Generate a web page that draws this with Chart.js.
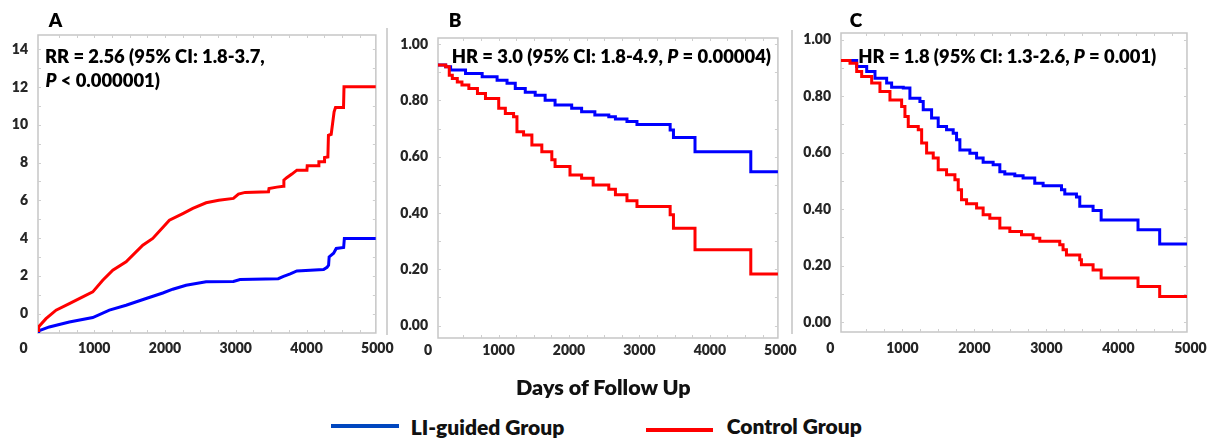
<!DOCTYPE html>
<html><head><meta charset="utf-8">
<script src="https://cdn.jsdelivr.net/npm/chart.js@4.4.1/dist/chart.umd.min.js"></script>
<style>
html,body{margin:0;padding:0;background:#fff;}
#wrap{position:relative;width:1214px;height:439px;overflow:hidden;font-family:Lato,"Open Sans",sans-serif;}
canvas{position:absolute;top:0;}
.sep{position:absolute;width:1.5px;background:#d2d2d2;}
.txt{position:absolute;font-weight:800;color:#111;white-space:nowrap;line-height:1;font-family:Lato,sans-serif;}
.leg{position:absolute;height:4px;}
</style></head><body>
<div id="wrap">
  <canvas id="cA" width="400" height="370" style="left:0px"></canvas>
  <canvas id="cB" width="412" height="370" style="left:388px"></canvas>
  <canvas id="cC" width="419" height="370" style="left:795px"></canvas>
  <div class="sep" style="left:386px;top:28px;height:307px"></div>
  <div class="sep" style="left:791px;top:30px;height:304px"></div>
  <div class="txt" id="xtitle" style="left:516px;top:376.5px;font-size:21.5px">Days of Follow Up</div>
  <div class="leg" style="left:331px;top:423.7px;width:68px;background:#0047bf"></div>
  <div class="txt" id="leg0" style="left:410.7px;top:415.9px;font-size:21px">LI-guided Group</div>
  <div class="leg" style="left:646px;top:427.7px;width:67px;background:#ff0000"></div>
  <div class="txt" id="leg1" style="left:726.7px;top:415.2px;font-size:21px">Control Group</div>
</div>
<script>
// ---------- data ----------
const seriesNames = ['LI-guided Group', 'Control Group'];
const xTickValues = [0, 1000, 2000, 3000, 4000, 5000];
const aYTickValues = [0, 2, 4, 6, 8, 10, 12, 14];
const survYTickValues = [0, 0.2, 0.4, 0.6, 0.8, 1.0];

// Panel A (cumulative, RR)
const aLiX = [205, 215, 365, 648, 979, 1214, 1450, 1733, 1969, 2110, 2298, 2581, 2967, 3061, 3600, 3675, 3770, 3864, 4241, 4290, 4312, 4320, 4383, 4420, 4525, 4535, 4980];
const aLiY = [-0.95, -0.92, -0.71, -0.45, -0.21, 0.18, 0.44, 0.8, 1.09, 1.29, 1.5, 1.68, 1.7, 1.8, 1.85, 1.97, 2.1, 2.26, 2.33, 2.45, 2.56, 3.0, 3.2, 3.45, 3.5, 3.98, 3.98];
const aCtX = [205, 215, 318, 460, 648, 837, 979, 1120, 1262, 1450, 1686, 1827, 2062, 2252, 2393, 2581, 2760, 2967, 3038, 3133, 3463, 3470, 3581, 3675, 3680, 3720, 3793, 3864, 4006, 4010, 4170, 4175, 4250, 4255, 4302, 4310, 4349, 4390, 4410, 4523, 4530, 4980];
const aCtY = [-0.9, -0.7, -0.27, 0.18, 0.53, 0.88, 1.15, 1.77, 2.3, 2.74, 3.62, 3.98, 4.95, 5.3, 5.57, 5.87, 6.0, 6.1, 6.33, 6.42, 6.45, 6.63, 6.7, 6.75, 7.07, 7.2, 7.39, 7.6, 7.6, 7.83, 7.83, 8.04, 8.04, 8.27, 8.3, 9.45, 9.5, 10.69, 10.92, 10.92, 12.02, 12.02];

// Panel B (survival, HR 3.0)
const bLiX = [140, 249, 319, 531, 767, 979, 1120, 1237, 1379, 1520, 1661, 1802, 2038, 2179, 2367, 2565, 2659, 2823, 2965, 3436, 3483, 3789, 4581, 4966];
const bLiY = [0.926, 0.92, 0.908, 0.896, 0.884, 0.872, 0.861, 0.843, 0.829, 0.819, 0.801, 0.784, 0.772, 0.76, 0.748, 0.742, 0.734, 0.725, 0.715, 0.695, 0.668, 0.618, 0.547, 0.547];
const bCtX = [140, 249, 300, 343, 414, 480, 578, 700, 814, 1002, 1096, 1213, 1261, 1355, 1473, 1614, 1756, 1802, 2014, 2179, 2343, 2565, 2659, 2823, 2965, 3436, 3483, 3789, 4581, 4966];
const bCtY = [0.926, 0.92, 0.89, 0.878, 0.866, 0.855, 0.843, 0.825, 0.807, 0.772, 0.754, 0.742, 0.689, 0.677, 0.642, 0.618, 0.589, 0.565, 0.535, 0.524, 0.5, 0.485, 0.465, 0.444, 0.423, 0.394, 0.346, 0.27, 0.183, 0.183];

// Panel C (survival, HR 1.8)
const cLiX = [147, 272, 365, 504, 619, 781, 850, 1012, 1104, 1243, 1289, 1405, 1497, 1613, 1705, 1752, 1798, 1937, 2030, 2121, 2260, 2353, 2422, 2561, 2676, 2838, 2954, 3209, 3255, 3417, 3463, 3648, 3760, 4272, 4573, 4952];
const cLiY = [0.927, 0.927, 0.905, 0.888, 0.864, 0.847, 0.832, 0.829, 0.793, 0.781, 0.752, 0.723, 0.693, 0.681, 0.669, 0.646, 0.61, 0.598, 0.581, 0.566, 0.557, 0.533, 0.525, 0.518, 0.51, 0.492, 0.483, 0.469, 0.454, 0.443, 0.41, 0.395, 0.362, 0.327, 0.277, 0.277];
const cCtX = [147, 272, 365, 434, 573, 688, 827, 989, 1035, 1081, 1220, 1267, 1336, 1428, 1497, 1613, 1729, 1775, 1821, 1891, 2030, 2121, 2214, 2353, 2492, 2654, 2815, 2908, 3185, 3231, 3278, 3463, 3486, 3648, 3760, 4272, 4573, 4952];
const cCtY = [0.927, 0.917, 0.888, 0.87, 0.847, 0.817, 0.787, 0.764, 0.728, 0.693, 0.681, 0.634, 0.599, 0.581, 0.54, 0.522, 0.504, 0.469, 0.433, 0.419, 0.404, 0.38, 0.368, 0.333, 0.321, 0.309, 0.297, 0.286, 0.274, 0.256, 0.238, 0.221, 0.203, 0.185, 0.156, 0.126, 0.091, 0.091];

// ---------- drawing ----------
const pts = (xs, ys) => xs.map((x, i) => ({x: x, y: ys[i]}));
const FONT = 'Lato, "Open Sans", sans-serif';

const framePlugin = {
  id: 'frame',
  beforeDatasetsDraw(chart) {
    const {ctx, chartArea: a, scales} = chart;
    const o = chart.options.plugins.frame;
    ctx.save();
    ctx.strokeStyle = '#c6c6c6';
    ctx.lineWidth = 1.5;
    ctx.strokeRect(a.left, a.top, a.right - a.left, a.bottom - a.top);
    ctx.lineWidth = 1;
    ctx.strokeStyle = '#cfcfcf';
    ctx.beginPath();
    for (let v = o.yMinorStart; v <= scales.y.max; v += o.yMinor) {
      const p = Math.round(scales.y.getPixelForValue(v)) + 0.5;
      if (p < a.top + 2 || p > a.bottom - 2) continue;
      ctx.moveTo(a.left, p); ctx.lineTo(a.left + 3, p);
      ctx.moveTo(a.right, p); ctx.lineTo(a.right - 3, p);
    }
    for (let v = 500; v < scales.x.max; v += 250) {
      const p = Math.round(scales.x.getPixelForValue(v)) + 0.5;
      if (p < a.left + 2) continue;
      ctx.moveTo(p, a.top); ctx.lineTo(p, a.top + 3);
      ctx.moveTo(p, a.bottom); ctx.lineTo(p, a.bottom - 3);
    }
    ctx.stroke();
    ctx.restore();
  }
};

const textPlugin = {
  id: 'texts',
  afterDraw(chart) {
    const {ctx} = chart;
    const o = chart.options.plugins.texts;
    ctx.save();
    ctx.fillStyle = '#000';
    ctx.textBaseline = 'alphabetic';
    ctx.font = '800 19px ' + FONT;
    ctx.textAlign = 'center';
    ctx.fillText(o.letter, o.letterX - o.offset, 27);
    ctx.textAlign = 'left';
    o.lines.forEach(line => {
      let x = line.x - o.offset;
      line.parts.forEach(part => {
        ctx.font = (part.italic ? 'italic ' : '') + '800 18.4px ' + FONT;
        ctx.fillText(part.t, x, line.y);
        x += ctx.measureText(part.t).width;
      });
    });
    ctx.restore();
  }
};

function panel(id, liX, liY, ctX, ctY, cfg) {
  const tickFont = {family: FONT, size: 14, weight: '800'};
  return new Chart(document.getElementById(id), {
    type: 'line',
    data: {
      datasets: [
        {label: seriesNames[1], data: pts(ctX, ctY), borderColor: '#ff0000', borderWidth: 3,
         pointRadius: 0, stepped: cfg.stepped, fill: false, tension: 0},
        {label: seriesNames[0], data: pts(liX, liY), borderColor: '#0000ff', borderWidth: 3,
         pointRadius: 0, stepped: cfg.stepped, fill: false, tension: 0}
      ]
    },
    options: {
      responsive: false, animation: false, devicePixelRatio: 1,
      layout: {padding: cfg.padding},
      plugins: {
        legend: {display: false}, tooltip: {enabled: false},
        frame: cfg.frame,
        texts: cfg.texts
      },
      scales: {
        x: {
          type: 'linear', min: cfg.xMin, max: cfg.xMax,
          grid: {display: false, drawTicks: false}, border: {display: false},
          afterBuildTicks: s => { s.ticks = xTickValues.map(v => ({value: v})); },
          afterFit: s => { s.height = 27; },
          ticks: {autoSkip: false, maxRotation: 0, padding: cfg.xPad, color: '#262626', font: tickFont,
                  callback: v => String(v)}
        },
        y: {
          type: 'linear', min: cfg.yMin, max: cfg.yMax,
          grid: {display: false, drawTicks: false}, border: {display: false},
          afterBuildTicks: s => { s.ticks = cfg.yTicks.map(v => ({value: v})); },
          afterFit: s => { s.width = cfg.yW; },
          ticks: {autoSkip: false, padding: 10, color: '#262626', font: tickFont, callback: cfg.yFmt}
        }
      }
    },
    plugins: [framePlugin, textPlugin]
  });
}

panel('cA', aLiX, aLiY, aCtX, aCtY, {
  stepped: false, xMin: 205, xMax: 4980, yMin: -1.03, yMax: 14.76,
  yTicks: aYTickValues, yFmt: v => String(v), yW: 38, xPad: 6.6,
  padding: {left: 0, right: 24, top: 35, bottom: 10},
  frame: {yMinor: 1, yMinorStart: -1},
  texts: {offset: 0, letter: 'A', letterX: 55.5, lines: [
    {x: 45, y: 63.3, parts: [{t: 'RR = 2.56 (95% CI: 1.8-3.7,'}]},
    {x: 45.5, y: 87.3, parts: [{t: 'P', italic: true}, {t: ' < 0.000001)'}]}
  ]}
});
panel('cB', bLiX, bLiY, bCtX, bCtY, {
  stepped: true, xMin: 140, xMax: 4966, yMin: -0.044, yMax: 1.022,
  yTicks: survYTickValues, yFmt: v => v.toFixed(2), yW: 50, xPad: 3.6,
  padding: {left: 0, right: 20, top: 38, bottom: 5},
  frame: {yMinor: 0.1, yMinorStart: 0},
  texts: {offset: 388, letter: 'B', letterX: 455, lines: [
    {x: 451.7, y: 62.7, parts: [{t: 'HR = 3.0 (95% CI: 1.8-4.9, '}, {t: 'P', italic: true}, {t: ' = 0.00004)'}]}
  ]}
});
panel('cC', cLiX, cLiY, cCtX, cCtY, {
  stepped: true, xMin: 147, xMax: 4952, yMin: -0.035, yMax: 1.024,
  yTicks: survYTickValues, yFmt: v => v.toFixed(2), yW: 46, xPad: 7.6,
  padding: {left: 0, right: 27, top: 33, bottom: 11},
  frame: {yMinor: 0.1, yMinorStart: 0},
  texts: {offset: 795, letter: 'C', letterX: 856, lines: [
    {x: 858.3, y: 63.3, parts: [{t: 'HR = 1.8 (95% CI: 1.3-2.6, '}, {t: 'P', italic: true}, {t: ' = 0.001)'}]}
  ]}
});
</script>
</body></html>
